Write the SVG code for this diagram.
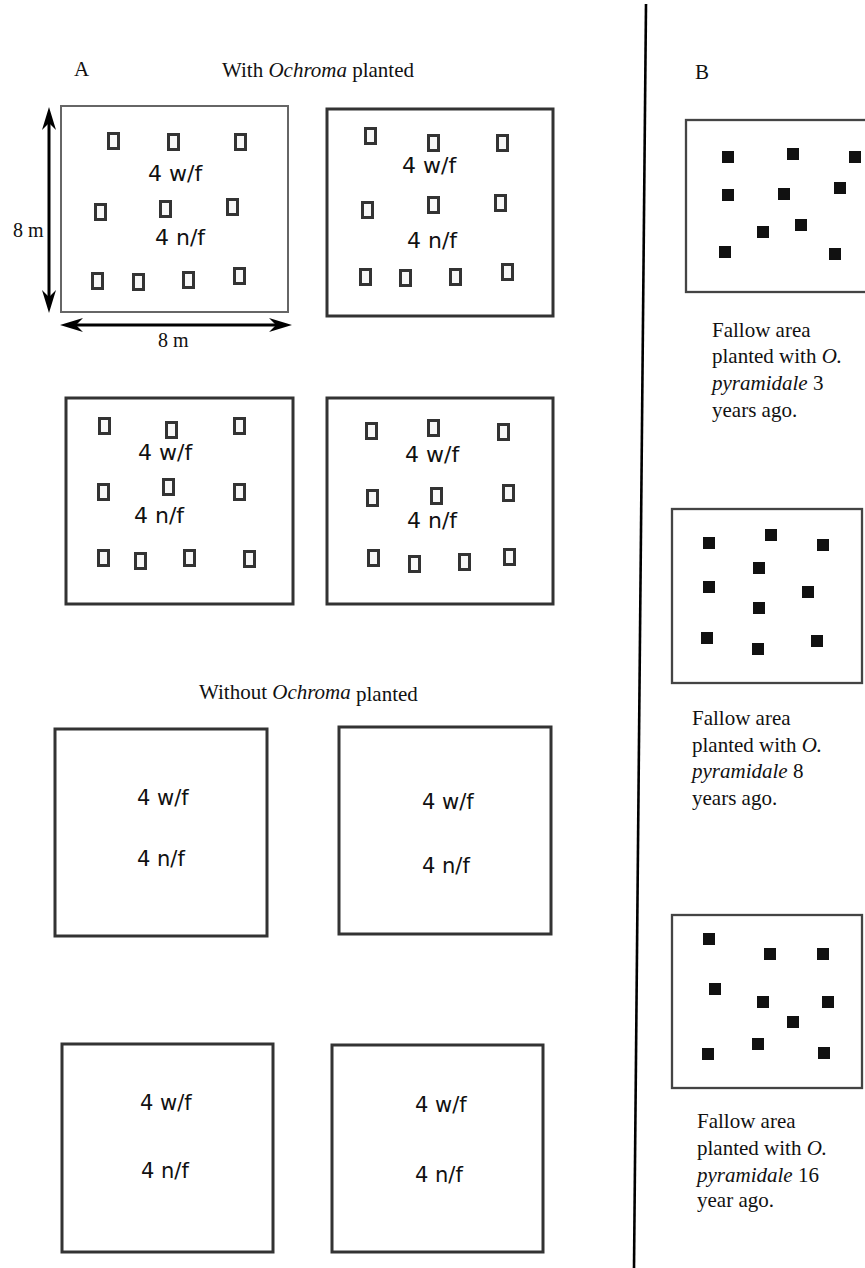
<svg xmlns="http://www.w3.org/2000/svg" width="865" height="1268" viewBox="0 0 865 1268">
<style>
.serif{font-family:"Liberation Serif","Times New Roman",serif;font-size:21px;fill:#111}
.dimtxt{font-size:20px}
.lab{font-family:"DejaVu Sans",Verdana,sans-serif;fill:#111}
.big{font-size:22px}
.small{font-size:21px}
.plot{fill:#fff;stroke:#333;stroke-width:3}
.plotthin{fill:#fff;stroke:#666;stroke-width:2}
.sq{fill:#f7f7f7;stroke:#333;stroke-width:3}
.bsq{fill:#111;stroke:none}
.bplot{fill:#fff;stroke:#444;stroke-width:2.3}
.dim{stroke:#000;stroke-width:3;fill:none;marker-start:url(#ah);marker-end:url(#ah)}
</style>
<defs>
<marker id="ah" viewBox="-25 -8 27 16" markerWidth="27" markerHeight="16" refX="-10" refY="0" orient="auto-start-reverse" markerUnits="userSpaceOnUse">
<path d="M0,0 L-23,-7 L-16,0 L-23,7 Z" fill="#000"/>
</marker>
</defs>
<rect width="865" height="1268" fill="#fff"/>

<g id="titles">
<text class="serif" x="74" y="76">A</text>
<text class="serif" x="222" y="77">With <tspan font-style="italic">Ochroma</tspan> planted</text>
<text class="serif" x="199" y="699">Without <tspan font-style="italic">Ochroma</tspan> <tspan dy="2">planted</tspan></text>
<text class="serif" x="695" y="79">B</text>
</g>

<g id="divider">
<line x1="646" y1="4" x2="634" y2="1268" stroke="#000" stroke-width="2.6"/>
</g>

<g id="plot-a1">
<rect class="plotthin" x="61" y="106" width="227" height="206"/>
<rect class="sq" x="108.5" y="133.5" width="10" height="15"/>
<rect class="sq" x="168.5" y="134.5" width="10" height="15"/>
<rect class="sq" x="235.5" y="134.5" width="10" height="15"/>
<rect class="sq" x="95.5" y="204.5" width="10" height="15"/>
<rect class="sq" x="160.5" y="201.5" width="10" height="15"/>
<rect class="sq" x="227.5" y="199.5" width="10" height="15"/>
<rect class="sq" x="92.5" y="273.5" width="10" height="15"/>
<rect class="sq" x="133.5" y="274.5" width="10" height="15"/>
<rect class="sq" x="183.5" y="272.5" width="10" height="15"/>
<rect class="sq" x="234.5" y="268.5" width="10" height="15"/>
<text class="lab big" x="148" y="181">4 w/f</text>
<text class="lab big" x="155" y="245">4 n/f</text>
</g>

<g id="dimensions">
<line class="dim" x1="49" y1="117" x2="49" y2="303"/>
<line class="dim" x1="70" y1="325" x2="282" y2="325"/>
<text class="serif dimtxt" x="13" y="237">8 m</text>
<text class="serif dimtxt" x="158" y="347">8 m</text>
</g>

<g id="plot-a2">
<rect class="plot" x="327" y="109" width="226" height="207"/>
<rect class="sq" x="365.5" y="128.5" width="10" height="15"/>
<rect class="sq" x="428.5" y="135.5" width="10" height="15"/>
<rect class="sq" x="497.5" y="135.5" width="10" height="15"/>
<rect class="sq" x="362.5" y="202.5" width="10" height="15"/>
<rect class="sq" x="428.5" y="197.5" width="10" height="15"/>
<rect class="sq" x="495.5" y="195.5" width="10" height="15"/>
<rect class="sq" x="360.5" y="269.5" width="10" height="15"/>
<rect class="sq" x="400.5" y="270.5" width="10" height="15"/>
<rect class="sq" x="450.5" y="269.5" width="10" height="15"/>
<rect class="sq" x="502.5" y="264.5" width="10" height="15"/>
<text class="lab big" x="402" y="173">4 w/f</text>
<text class="lab big" x="407" y="248">4 n/f</text>
</g>

<g id="plot-a3">
<rect class="plot" x="66" y="398" width="227" height="206"/>
<rect class="sq" x="99.5" y="418.5" width="10" height="15"/>
<rect class="sq" x="166.5" y="422.5" width="10" height="15"/>
<rect class="sq" x="234.5" y="418.5" width="10" height="15"/>
<rect class="sq" x="98.5" y="484.5" width="10" height="15"/>
<rect class="sq" x="163.5" y="479.5" width="10" height="15"/>
<rect class="sq" x="234.5" y="484.5" width="10" height="15"/>
<rect class="sq" x="98.5" y="550.5" width="10" height="15"/>
<rect class="sq" x="135.5" y="553.5" width="10" height="15"/>
<rect class="sq" x="184.5" y="550.5" width="10" height="15"/>
<rect class="sq" x="244.5" y="551.5" width="10" height="15"/>
<text class="lab big" x="138" y="460">4 w/f</text>
<text class="lab big" x="134" y="523">4 n/f</text>
</g>

<g id="plot-a4">
<rect class="plot" x="327" y="398" width="226" height="206"/>
<rect class="sq" x="366.5" y="423.5" width="10" height="15"/>
<rect class="sq" x="428.5" y="420.5" width="10" height="15"/>
<rect class="sq" x="498.5" y="424.5" width="10" height="15"/>
<rect class="sq" x="367.5" y="490.5" width="10" height="15"/>
<rect class="sq" x="431.5" y="488.5" width="10" height="15"/>
<rect class="sq" x="503.5" y="485.5" width="10" height="15"/>
<rect class="sq" x="368.5" y="550.5" width="10" height="15"/>
<rect class="sq" x="409.5" y="556.5" width="10" height="15"/>
<rect class="sq" x="459.5" y="554.5" width="10" height="15"/>
<rect class="sq" x="504.5" y="549.5" width="10" height="15"/>
<text class="lab big" x="405" y="462">4 w/f</text>
<text class="lab big" x="407" y="528">4 n/f</text>
</g>

<g id="plot-a5">
<rect class="plot" x="55" y="729" width="212" height="207"/>
<text class="lab small" x="137" y="805">4 w/f</text>
<text class="lab small" x="137" y="866">4 n/f</text>
</g>

<g id="plot-a6">
<rect class="plot" x="339" y="727" width="212" height="207"/>
<text class="lab small" x="422" y="809">4 w/f</text>
<text class="lab small" x="422" y="873">4 n/f</text>
</g>

<g id="plot-a7">
<rect class="plot" x="62" y="1044" width="211" height="208"/>
<text class="lab small" x="140" y="1110">4 w/f</text>
<text class="lab small" x="141" y="1178">4 n/f</text>
</g>

<g id="plot-a8">
<rect class="plot" x="332" y="1045" width="211" height="207"/>
<text class="lab small" x="415" y="1112">4 w/f</text>
<text class="lab small" x="415" y="1182">4 n/f</text>
</g>

<g id="plot-b1">
<rect class="bplot" x="686" y="120" width="184" height="172"/>
<rect class="bsq" x="722" y="151" width="12" height="12"/>
<rect class="bsq" x="787" y="148" width="12" height="12"/>
<rect class="bsq" x="849" y="151" width="12" height="12"/>
<rect class="bsq" x="722" y="189" width="12" height="12"/>
<rect class="bsq" x="778" y="188" width="12" height="12"/>
<rect class="bsq" x="834" y="182" width="12" height="12"/>
<rect class="bsq" x="757" y="226" width="12" height="12"/>
<rect class="bsq" x="795" y="219" width="12" height="12"/>
<rect class="bsq" x="719" y="246" width="12" height="12"/>
<rect class="bsq" x="829" y="248" width="12" height="12"/>
<text class="serif" x="712" y="337">Fallow area</text>
<text class="serif" x="712" y="363">planted with <tspan font-style="italic">O.</tspan></text>
<text class="serif" x="712" y="390"><tspan font-style="italic">pyramidale</tspan> 3</text>
<text class="serif" x="712" y="417">years ago.</text>
</g>

<g id="plot-b2">
<rect class="bplot" x="672" y="509" width="190" height="174"/>
<rect class="bsq" x="703" y="537" width="12" height="12"/>
<rect class="bsq" x="765" y="529" width="12" height="12"/>
<rect class="bsq" x="817" y="539" width="12" height="12"/>
<rect class="bsq" x="753" y="562" width="12" height="12"/>
<rect class="bsq" x="703" y="581" width="12" height="12"/>
<rect class="bsq" x="802" y="586" width="12" height="12"/>
<rect class="bsq" x="753" y="602" width="12" height="12"/>
<rect class="bsq" x="701" y="632" width="12" height="12"/>
<rect class="bsq" x="752" y="643" width="12" height="12"/>
<rect class="bsq" x="811" y="635" width="12" height="12"/>
<text class="serif" x="692" y="725">Fallow area</text>
<text class="serif" x="692" y="752">planted with <tspan font-style="italic">O.</tspan></text>
<text class="serif" x="692" y="778"><tspan font-style="italic">pyramidale</tspan> 8</text>
<text class="serif" x="692" y="805">years ago.</text>
</g>

<g id="plot-b3">
<rect class="bplot" x="672" y="915" width="190" height="173"/>
<rect class="bsq" x="703" y="933" width="12" height="12"/>
<rect class="bsq" x="764" y="948" width="12" height="12"/>
<rect class="bsq" x="817" y="948" width="12" height="12"/>
<rect class="bsq" x="709" y="983" width="12" height="12"/>
<rect class="bsq" x="757" y="996" width="12" height="12"/>
<rect class="bsq" x="822" y="996" width="12" height="12"/>
<rect class="bsq" x="787" y="1016" width="12" height="12"/>
<rect class="bsq" x="752" y="1038" width="12" height="12"/>
<rect class="bsq" x="702" y="1048" width="12" height="12"/>
<rect class="bsq" x="818" y="1047" width="12" height="12"/>
<text class="serif" x="697" y="1128">Fallow area</text>
<text class="serif" x="697" y="1155">planted with <tspan font-style="italic">O.</tspan></text>
<text class="serif" x="697" y="1182"><tspan font-style="italic">pyramidale</tspan> 16</text>
<text class="serif" x="697" y="1207">year ago.</text>
</g>
</svg>
